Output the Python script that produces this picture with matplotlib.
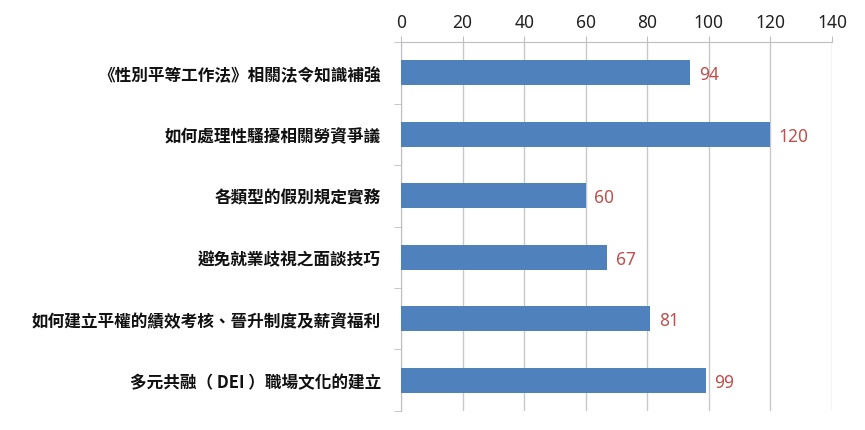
import matplotlib
matplotlib.use('Agg')
import matplotlib.pyplot as plt
from matplotlib.ticker import FixedLocator

plt.rcParams['font.family'] = ['Noto Sans CJK TC', 'DejaVu Sans']

topics = ['《性別平等工作法》相關法令知識補強',
          '如何處理性騷擾相關勞資爭議',
          '各類型的假別規定實務',
          '避免就業歧視之面談技巧',
          '如何建立平權的績效考核、晉升制度及薪資福利',
          '多元共融（ DEI ）職場文化的建立']
counts = [94, 120, 60, 67, 81, 99]
xticks = [0, 20, 40, 60, 80, 100, 120, 140]

fig = plt.figure(figsize=(8.65, 4.31), dpi=100)
ax = fig.add_axes([0.4636, 0.0441, 0.4982, 0.8561])

pos = list(range(len(topics)))
bars = ax.barh(pos, counts, height=0.4, color='#4F81BD', zorder=3)
for b, v in zip(bars, counts):
    ax.annotate(str(v), (b.get_width(), b.get_y() + b.get_height() / 2),
                xytext=(6, -1), textcoords='offset points', va='center', ha='left',
                fontsize=12.5, color='#C0504D', family=['Noto Sans', 'DejaVu Sans'])

ax.set_xlim(0, 140)
ax.set_ylim(len(topics) - 0.5, -0.5)
ax.xaxis.set_major_locator(FixedLocator(xticks))
ax.xaxis.tick_top()
ax.tick_params(axis='x', length=4, color='#BEBEBE', labelsize=12.5, labelcolor='#222222', pad=4)
ax.set_xticklabels([str(t) for t in xticks], family=['Noto Sans', 'DejaVu Sans'])
ax.grid(axis='x', color='#C8C8C8', linewidth=1, zorder=0)

ax.set_yticks(pos)
ax.set_yticklabels(topics, fontsize=12, color='#111111', weight='bold')
ax.yaxis.set_minor_locator(FixedLocator([i + 0.5 for i in range(-1, len(topics))]))
ax.tick_params(axis='y', which='major', length=0, pad=14.5)
ax.tick_params(axis='y', which='minor', length=5, color='#BEBEBE')

for s in ['right', 'bottom']:
    ax.spines[s].set_visible(False)
ax.spines['top'].set_color('#BEBEBE')
ax.spines['left'].set_color('#BEBEBE')

fig.savefig('out.png', dpi=100)
